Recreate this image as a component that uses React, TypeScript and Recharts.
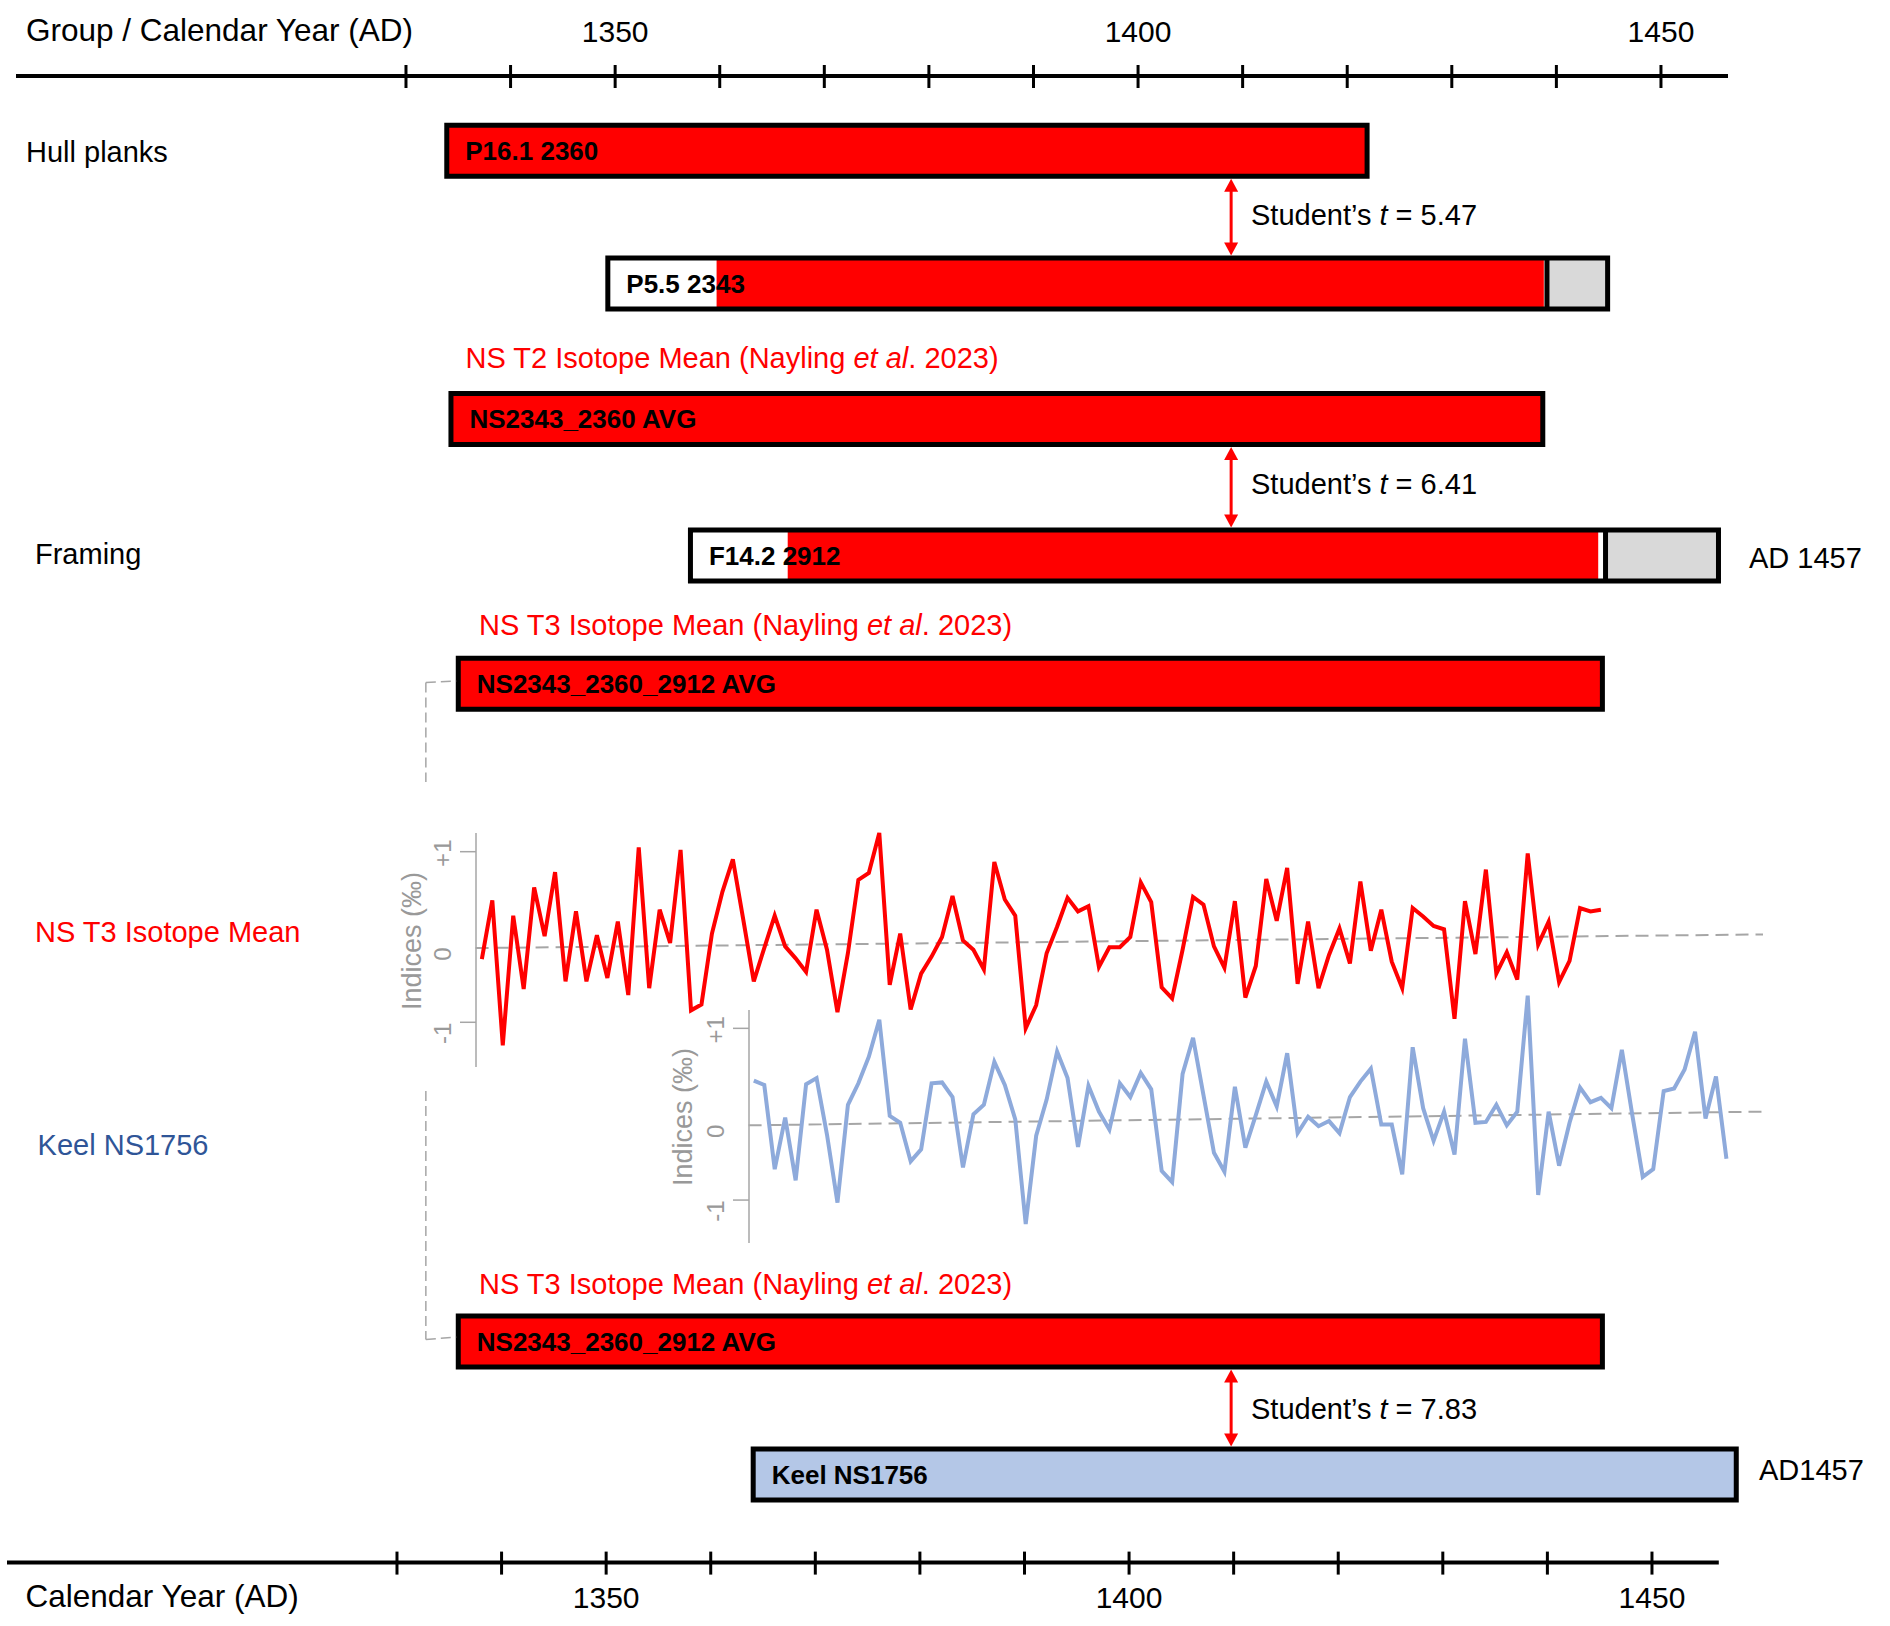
import React from 'react';
import {
  ComposedChart,
  LineChart,
  Line,
  Scatter,
  XAxis,
  YAxis,
  ReferenceArea,
  ReferenceLine,
} from 'recharts';

const FONT = "'Liberation Sans', Arial, Helvetica, sans-serif";
const ISO_RED = '#ff0000';
const KEEL_FILL = '#b4c7e7';
const KEEL_LINE = '#8eaadb';
const SAP_GREY = '#d9d9d9';
const GUIDE_GREY = '#a6a6a6';
const LABEL_GREY = '#999999';
const KEEL_TEXT = '#2f5597';

// calendar axis (years AD)
const TICK_YEARS = [1330, 1340, 1350, 1360, 1370, 1380, 1390, 1400, 1410, 1420, 1430, 1440, 1450];
const LABELLED_YEARS = [1350, 1400, 1450];

// timbers and chronologies, top to bottom
const SAMPLE_NAMES = [
  'P16.1 2360',
  'P5.5 2343',
  'NS2343_2360 AVG',
  'F14.2 2912',
  'NS2343_2360_2912 AVG',
  'NS2343_2360_2912 AVG',
  'Keel NS1756',
];
const SAMPLE_FIRST = [1333.9, 1349.3, 1334.3, 1357.2, 1335.0, 1335.0, 1363.2];
const MEASURED_FROM = [1333.9, 1359.7, 1334.3, 1366.5, 1335.0, 1335.0, 1363.2];
const MEASURED_TO = [1421.9, 1438.8, 1438.7, 1444.0, 1444.4, 1444.4, 1457.2];
const SAPWOOD_FROM: (number | null)[] = [null, 1439.1, null, 1444.7, null, null, null];
const SAMPLE_LAST = [1421.9, 1444.9, 1438.7, 1455.5, 1444.4, 1444.4, 1457.2];
const SAMPLE_IS_KEEL = [false, false, false, false, false, false, true];

// Student's t between neighbouring rows
const T_PAIRS = [[0, 1], [2, 3], [5, 6]];
const T_VALUES = ['5.47', '6.41', '7.83'];
const T_YEAR = 1408.9;

// NS T3 isotope mean indices (per mil), one value per year
const RED_FIRST_YEAR = 1337;
const RED_VALUES = [
  -0.26, 0.43, -1.27, 0.25, -0.61, 0.58, 0.01, 0.76, -0.52, 0.30,
  -0.52, 0.02, -0.48, 0.18, -0.68, 1.05, -0.60, 0.32, -0.07, 1.02,
  -0.86, -0.79, 0.04, 0.53, 0.91, 0.20, -0.52, -0.13, 0.25, -0.11,
  -0.25, -0.41, 0.32, -0.15, -0.88, -0.19, 0.67, 0.75, 1.22, -0.56,
  0.04, -0.85, -0.43, -0.23, 0.00, 0.48, -0.04, -0.15, -0.38, 0.88,
  0.44, 0.25, -1.07, -0.80, -0.19, 0.12, 0.46, 0.30, 0.36, -0.35,
  -0.12, -0.12, 0.00, 0.64, 0.41, -0.59, -0.72, -0.15, 0.47, 0.38,
  -0.11, -0.36, 0.42, -0.71, -0.34, 0.68, 0.19, 0.81, -0.55, 0.18,
  -0.60, -0.21, 0.10, -0.31, 0.65, -0.16, 0.32, -0.29, -0.60, 0.34,
  0.24, 0.13, 0.09, -0.96, 0.42, -0.20, 0.79, -0.43, -0.18, -0.50,
  0.98, -0.09, 0.18, -0.53, -0.28, 0.34, 0.30, 0.32,
];

// Keel NS1756 indices (per mil)
const KEEL_FIRST_YEAR = 1363;
const KEEL_VALUES = [
  0.39, 0.34, -0.64, -0.04, -0.77, 0.35, 0.42, -0.24, -1.03, 0.11,
  0.36, 0.67, 1.10, -0.02, -0.10, -0.55, -0.41, 0.36, 0.37, 0.20,
  -0.62, 0.00, 0.11, 0.61, 0.34, -0.06, -1.28, -0.25, 0.17, 0.73,
  0.42, -0.38, 0.33, 0.03, -0.18, 0.36, 0.20, 0.48, 0.29, -0.66,
  -0.79, 0.47, 0.89, 0.22, -0.45, -0.67, 0.32, -0.39, -0.01, 0.38,
  0.09, 0.71, -0.22, -0.03, -0.14, -0.08, -0.22, 0.20, 0.38, 0.53,
  -0.12, -0.12, -0.70, 0.78, 0.07, -0.31, 0.03, -0.47, 0.88, -0.10,
  -0.09, 0.11, -0.13, 0.03, 1.38, -0.94, 0.03, -0.60, -0.10, 0.31,
  0.14, 0.19, 0.07, 0.75, -0.01, -0.73, -0.64, 0.27, 0.30, 0.52,
  0.96, -0.05, 0.44, -0.52,
];

// dashed zero lines, slightly tilted in the original
const RED_BASELINE = [{ x: 1336.4, y: -0.13 }, { x: 1459.5, y: 0.03 }];
const KEEL_BASELINE = [{ x: 1362.5, y: -0.13 }, { x: 1459.5, y: 0.03 }];
const INDEX_TICKS = [-1, 0, 1];

// ---- layout (page pixels) ----
const LANE_MID = [150.8, 283.5, 418.9, 555.5, 683.7, 1341.5, 1474.4];
const BAR_HALF = 25.5;
const BAR_EDGE = 5;
const CONNECTOR_YEAR = 1331.9;
const TICK_NUDGE: Record<string, number> = { '1': 1.5, '0': 17, '-1': 11 };

function YearTick(props: any) {
  const { x, y, payload, labelDy } = props;
  const year = payload.value as number;
  return (
    <g>
      <line x1={x} x2={x} y1={y - 11} y2={y + 12} stroke="#000" strokeWidth={3} />
      {LABELLED_YEARS.includes(year) && (
        <text
          x={x}
          y={y + labelDy}
          textAnchor="middle"
          dominantBaseline="central"
          fontSize={30}
          fontFamily={FONT}
          fill="#000"
        >
          {year}
        </text>
      )}
    </g>
  );
}

function IndexTick(props: any) {
  const { x, y, payload } = props;
  const v = payload.value as number;
  const tx = x - 33;
  const ty = y + (TICK_NUDGE[String(v)] ?? 0);
  return (
    <g>
      {v !== 0 && <line x1={x - 16} x2={x} y1={y} y2={y} stroke={GUIDE_GREY} strokeWidth={1.5} />}
      <text
        x={tx}
        y={ty}
        transform={`rotate(-90 ${tx} ${ty})`}
        textAnchor="middle"
        dominantBaseline="central"
        fontSize={24}
        fontFamily={FONT}
        fill={LABEL_GREY}
      >
        {v > 0 ? `+${v}` : String(v)}
      </text>
    </g>
  );
}

function TwoWayArrow(props: any) {
  const { x1, y1, x2, y2 } = props;
  const head = 13;
  const half = 7;
  return (
    <g>
      <line x1={x1} y1={y1 + head - 2} x2={x2} y2={y2 - head + 2} stroke={ISO_RED} strokeWidth={3} />
      <polygon points={`${x1},${y1} ${x1 - half},${y1 + head} ${x1 + half},${y1 + head}`} fill={ISO_RED} />
      <polygon points={`${x2},${y2} ${x2 - half},${y2 - head} ${x2 + half},${y2 - head}`} fill={ISO_RED} />
    </g>
  );
}

function Note({ x, y, size = 29, color = '#000', children }: any) {
  return (
    <div
      style={{
        position: 'absolute',
        left: x,
        top: y,
        transform: 'translateY(-50%)',
        fontSize: size,
        lineHeight: 1,
        color,
        whiteSpace: 'nowrap',
      }}
    >
      {children}
    </div>
  );
}

function AxisTitle({ x, y }: any) {
  return (
    <div
      style={{
        position: 'absolute',
        left: x,
        top: y,
        transform: 'translate(-50%, -50%) rotate(-90deg)',
        fontSize: 27,
        lineHeight: 1,
        color: LABEL_GREY,
        whiteSpace: 'nowrap',
      }}
    >
      Indices (‰)
    </div>
  );
}

function IndexChart({ rows, color, top, plotLeft, xDomain, yDomain, axisSpan, baseline }: any) {
  return (
    <div style={{ position: 'absolute', left: 0, top }}>
      <LineChart width={1890} height={300} data={rows} margin={{ top: 0, right: 0, bottom: 0, left: plotLeft - 60 }}>
        <XAxis dataKey="year" type="number" scale="linear" domain={xDomain} allowDataOverflow hide />
        <YAxis
          type="number"
          scale="linear"
          domain={yDomain}
          allowDataOverflow
          ticks={INDEX_TICKS}
          interval={0}
          width={60}
          axisLine={false}
          tickLine={false}
          tickSize={0}
          tickMargin={0}
          tick={(p: any) => <IndexTick {...p} />}
        />
        <ReferenceLine
          segment={[{ x: xDomain[0], y: axisSpan[0] }, { x: xDomain[0], y: axisSpan[1] }]}
          stroke={GUIDE_GREY}
          strokeWidth={1.5}
          ifOverflow="visible"
        />
        <ReferenceLine
          segment={baseline}
          stroke={GUIDE_GREY}
          strokeWidth={2}
          strokeDasharray="13 7"
          ifOverflow="visible"
        />
        <Line
          type="linear"
          dataKey="value"
          stroke={color}
          strokeWidth={4}
          dot={false}
          isAnimationActive={false}
        />
      </LineChart>
    </div>
  );
}

// invisible anchor points so the bar charts have something to scale against
const NoMark = () => <g />;

export default function App() {
  const redRows = RED_VALUES.map((value, i) => ({ year: RED_FIRST_YEAR + i, value }));
  const keelRows = KEEL_VALUES.map((value, i) => ({ year: KEEL_FIRST_YEAR + i, value }));
  const sampleRows = SAMPLE_NAMES.map((name, i) => ({ name, year: SAMPLE_FIRST[i], lane: LANE_MID[i] }));

  const bars = SAMPLE_NAMES.flatMap((name, i) => {
    const y1 = LANE_MID[i] - BAR_HALF;
    const y2 = LANE_MID[i] + BAR_HALF;
    const sap = SAPWOOD_FROM[i];
    const common = { xAxisId: 'yr', yAxisId: 'px', y1, y2, ifOverflow: 'visible' as const };
    const parts = [
      <ReferenceArea key={`w${i}`} {...common} x1={SAMPLE_FIRST[i]} x2={SAMPLE_LAST[i]} fill="#fff" fillOpacity={1} stroke="none" />,
      <ReferenceArea
        key={`m${i}`}
        {...common}
        x1={MEASURED_FROM[i]}
        x2={MEASURED_TO[i]}
        fill={SAMPLE_IS_KEEL[i] ? KEEL_FILL : ISO_RED}
        fillOpacity={1}
        stroke="none"
      />,
    ];
    if (sap != null) {
      parts.push(
        <ReferenceArea key={`g${i}`} {...common} x1={sap} x2={SAMPLE_LAST[i]} fill={SAP_GREY} fillOpacity={1} stroke="none" />,
        <ReferenceLine
          key={`d${i}`}
          xAxisId="yr"
          yAxisId="px"
          segment={[{ x: sap, y: y1 }, { x: sap, y: y2 }]}
          stroke="#000"
          strokeWidth={BAR_EDGE}
          ifOverflow="visible"
        />,
      );
    }
    parts.push(
      <ReferenceArea
        key={`o${i}`}
        {...common}
        x1={SAMPLE_FIRST[i]}
        x2={SAMPLE_LAST[i]}
        fill="none"
        fillOpacity={0}
        stroke="#000"
        strokeWidth={BAR_EDGE}
        label={{
          value: name,
          position: 'insideLeft',
          offset: 18.5,
          fontSize: 26,
          fontWeight: 700,
          fill: '#000',
          fontFamily: FONT,
        }}
      />,
    );
    return parts;
  });

  const arrows = T_PAIRS.map(([a, b], k) => (
    <ReferenceLine
      key={`t${k}`}
      xAxisId="yr"
      yAxisId="px"
      segment={[
        { x: T_YEAR, y: LANE_MID[a] + BAR_HALF + BAR_EDGE / 2 },
        { x: T_YEAR, y: LANE_MID[b] - BAR_HALF - BAR_EDGE / 2 },
      ]}
      stroke={ISO_RED}
      ifOverflow="visible"
      shape={(p: any) => <TwoWayArrow {...p} />}
    />
  ));

  const connectorSegments = [
    [{ x: CONNECTOR_YEAR, y: 682.5 }, { x: SAMPLE_FIRST[4] - 0.2, y: 681 }],
    [{ x: CONNECTOR_YEAR, y: 682.5 }, { x: CONNECTOR_YEAR, y: 782 }],
    [{ x: CONNECTOR_YEAR, y: 1091 }, { x: CONNECTOR_YEAR, y: 1339.5 }],
    [{ x: CONNECTOR_YEAR, y: 1339.5 }, { x: SAMPLE_FIRST[5] - 0.2, y: 1337 }],
  ];

  return (
    <div
      style={{
        position: 'absolute',
        left: 0,
        top: 0,
        width: 1890,
        height: 1626,
        background: '#fff',
        fontFamily: FONT,
        overflow: 'hidden',
      }}
    >
      <div style={{ position: 'absolute', left: 0, top: 0 }}>
        <ComposedChart width={1890} height={1626} data={sampleRows} margin={{ top: 0, right: 162, bottom: 0, left: 16 }}>
          <XAxis
            xAxisId="yr"
            dataKey="year"
            type="number"
            scale="linear"
            orientation="top"
            domain={[1292.71, 1456.41]}
            allowDataOverflow
            ticks={TICK_YEARS}
            interval={0}
            height={76}
            axisLine={{ stroke: '#000', strokeWidth: 4 }}
            tickLine={false}
            tickSize={0}
            tickMargin={0}
            tick={(p: any) => <YearTick {...p} labelDy={-44.8} />}
          />
          <YAxis yAxisId="px" dataKey="lane" type="number" scale="linear" domain={[76, 1626]} reversed allowDataOverflow hide />
          <Scatter xAxisId="yr" yAxisId="px" dataKey="lane" shape={NoMark} isAnimationActive={false} />
          {connectorSegments.map((seg, k) => (
            <ReferenceLine
              key={`c${k}`}
              xAxisId="yr"
              yAxisId="px"
              segment={seg}
              stroke={GUIDE_GREY}
              strokeWidth={1.5}
              strokeDasharray="10 5"
              ifOverflow="visible"
            />
          ))}
          {bars}
          {arrows}
        </ComposedChart>
      </div>

      <IndexChart
        rows={redRows}
        color={ISO_RED}
        top={800}
        plotLeft={476}
        xDomain={[1336.44, 1471.64]}
        yDomain={[-1.911, 1.606]}
        axisSpan={[1.219, -1.524]}
        baseline={RED_BASELINE}
      />
      <IndexChart
        rows={keelRows}
        color={KEEL_LINE}
        top={980}
        plotLeft={749}
        xDomain={[1362.54, 1471.64]}
        yDomain={[-1.931, 1.563]}
        axisSpan={[1.214, -1.5]}
        baseline={KEEL_BASELINE}
      />

      <div style={{ position: 'absolute', left: 0, top: 1540 }}>
        <ComposedChart width={1890} height={86} data={sampleRows} margin={{ top: 0, right: 171.2, bottom: 0, left: 7 }}>
          <XAxis
            dataKey="year"
            type="number"
            scale="linear"
            orientation="bottom"
            domain={[1292.71, 1456.39]}
            allowDataOverflow
            ticks={TICK_YEARS}
            interval={0}
            height={63.4}
            axisLine={{ stroke: '#000', strokeWidth: 4 }}
            tickLine={false}
            tickSize={0}
            tickMargin={0}
            tick={(p: any) => <YearTick {...p} labelDy={34.9} />}
          />
          <YAxis dataKey="lane" type="number" domain={[0, 2000]} allowDataOverflow hide />
          <Scatter dataKey="lane" shape={NoMark} isAnimationActive={false} />
        </ComposedChart>
      </div>

      <div style={{ position: 'absolute', left: 0, top: 0, width: 1890, height: 1626, pointerEvents: 'none' }}>
        <Note x={26} y={31} size={31.5}>Group / Calendar Year (AD)</Note>
        <Note x={26} y={152}>Hull planks</Note>
        <Note x={35} y={554}>Framing</Note>
        <Note x={465.5} y={358} color={ISO_RED}>
          NS T2 Isotope Mean (Nayling <i>et al</i>. 2023)
        </Note>
        <Note x={479} y={625} color={ISO_RED}>
          NS T3 Isotope Mean (Nayling <i>et al</i>. 2023)
        </Note>
        <Note x={479} y={1284} color={ISO_RED}>
          NS T3 Isotope Mean (Nayling <i>et al</i>. 2023)
        </Note>
        <Note x={35} y={932} color={ISO_RED}>NS T3 Isotope Mean</Note>
        <Note x={37.6} y={1145} color={KEEL_TEXT}>Keel NS1756</Note>
        <Note x={1251} y={215}>
          Student’s <i>t</i> = {T_VALUES[0]}
        </Note>
        <Note x={1251} y={484}>
          Student’s <i>t</i> = {T_VALUES[1]}
        </Note>
        <Note x={1251} y={1409}>
          Student’s <i>t</i> = {T_VALUES[2]}
        </Note>
        <Note x={1749} y={558}>AD 1457</Note>
        <Note x={1759} y={1470}>AD1457</Note>
        <Note x={25.5} y={1597} size={31.5}>Calendar Year (AD)</Note>
        <AxisTitle x={412} y={941} />
        <AxisTitle x={683} y={1117} />
      </div>
    </div>
  );
}
